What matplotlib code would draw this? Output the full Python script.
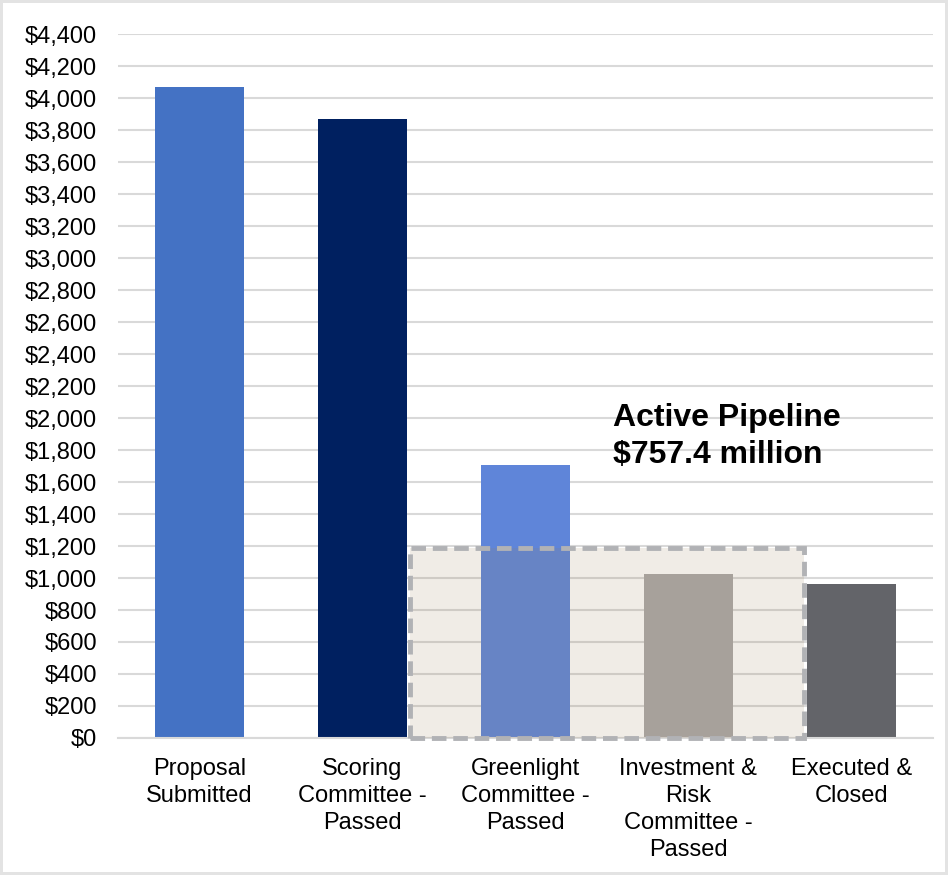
import matplotlib.pyplot as plt
from matplotlib.patches import Rectangle
from matplotlib.ticker import FuncFormatter

# data ($ millions)
stages = ["Proposal\nSubmitted", "Scoring\nCommittee -\nPassed", "Greenlight\nCommittee -\nPassed",
          "Investment &\nRisk\nCommittee -\nPassed", "Executed &\nClosed"]
amounts = [4070, 3870, 1706, 1025, 962]
colors = ["#4472c4", "#002060", "#5f85d9", "#aaa7a7", "#636469"]
pipeline_label = "Active Pipeline\n$757.4 million"

plt.rcParams['font.family'] = ['Liberation Sans', 'DejaVu Sans']

fig = plt.figure(figsize=(9.48, 8.75), dpi=100)
fig.patch.set_edgecolor("#e3e3e3")
fig.patch.set_linewidth(3)
ax = fig.add_axes([0.1245, 0.1566, 0.8595, 0.8044])

x = range(len(stages))
ax.bar(x, amounts, width=0.545, color=colors, zorder=2)

# active pipeline box (semi-transparent overlay)
box = Rectangle((1.29, 0), 2.42, 1187, facecolor="#9b8058", alpha=0.15,
                edgecolor="none", zorder=3)
ax.add_patch(box)
ax.add_patch(Rectangle((1.29, 0), 2.42, 1187, facecolor="none", edgecolor="#b1b2b5",
                       linewidth=3.5, linestyle=(0, (3, 1.4)), zorder=4, clip_on=False))

ax.text(2.54, 2095, pipeline_label, fontsize=23, fontweight='bold', ha='left', va='top',
        linespacing=1.3, zorder=5)

ax.set_xlim(-0.5, len(stages) - 0.5)
ax.set_ylim(0, 4400)
ax.set_yticks(range(0, 4401, 200))
ax.yaxis.set_major_formatter(FuncFormatter(lambda v, p: f"${v:,.0f}"))
ax.set_xticks(list(x))
ax.set_xticklabels(stages, fontsize=17, linespacing=1.3, va='top')
ax.tick_params(axis='y', labelsize=17, length=0, pad=15)
ax.tick_params(axis='x', length=0, pad=14.5)

ax.grid(axis='y', color="#d9d9d9", linewidth=1.5, zorder=0)
ax.set_axisbelow(True)
for s in ['top', 'right', 'left']:
    ax.spines[s].set_visible(False)
ax.spines['bottom'].set_color("#d9d9d9")
ax.spines['bottom'].set_linewidth(1.5)

fig.savefig("out.png", dpi=100)
